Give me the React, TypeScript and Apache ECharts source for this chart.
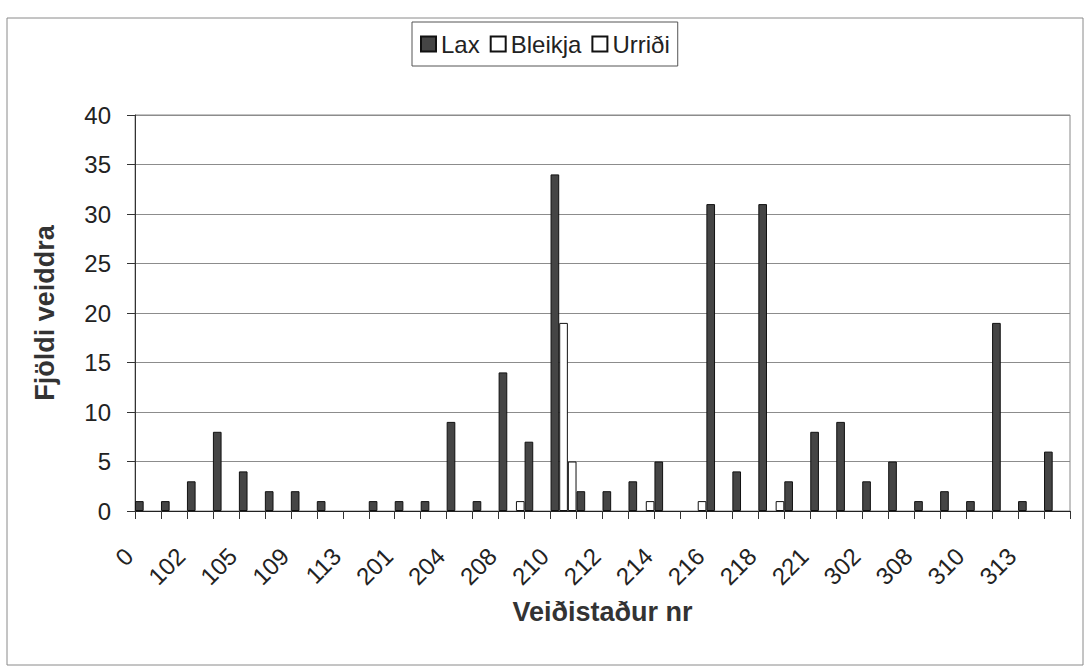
import React, { useEffect, useRef } from "react";
import * as echarts from "echarts";

const categories = [
  "0", "101", "102", "103", "105", "107", "109", "111", "113", "200",
  "201", "202", "204", "206", "208", "209", "210", "211", "212", "213",
  "214", "215", "216", "217", "218", "220", "221", "301", "302", "305",
  "308", "309", "310", "312", "313", "314",
];
const laxValues = [
  1, 1, 3, 8, 4, 2, 2, 1, 0, 1,
  1, 1, 9, 1, 14, 7, 34, 2, 2, 3,
  5, 0, 31, 4, 31, 3, 8, 9, 3, 5,
  1, 2, 1, 19, 1, 6,
];
const bleikjaValues = [
  0, 0, 0, 0, 0, 0, 0, 0, 0, 0,
  0, 0, 0, 0, 0, 0, 19, 0, 0, 0,
  0, 0, 0, 0, 0, 0, 0, 0, 0, 0,
  0, 0, 0, 0, 0, 0,
];
const urridiValues = [
  0, 0, 0, 0, 0, 0, 0, 0, 0, 0,
  0, 0, 0, 0, 1, 0, 5, 0, 0, 1,
  0, 1, 0, 0, 1, 0, 0, 0, 0, 0,
  0, 0, 0, 0, 0, 0,
];
const seriesNames = ["Lax", "Bleikja", "Urriði"];
const yMin = 0;
const yMax = 40;
const yInterval = 5;
const xTitle = "Veiðistaður nr";
const yTitle = "Fjöldi veiddra";

const FONT = "'Liberation Sans', Arial, sans-serif";

export default function App() {
  const ref = useRef<HTMLDivElement>(null);
  useEffect(() => {
    document.body.style.margin = "0";
    const chart = echarts.init(ref.current!, null, { renderer: "svg" });
    const toData = (arr: number[]) => arr.map((v) => (v === 0 ? null : v));
    const barBase = {
      type: "bar" as const,
      barGap: "0%",
      barCategoryGap: "0%",
    };
    chart.setOption({
      animation: false,
      backgroundColor: "#ffffff",
      textStyle: { fontFamily: FONT },
      graphic: [
        {
          type: "rect",
          shape: { x: 7, y: 18, width: 1076, height: 647 },
          style: { fill: "none", stroke: "#8a8a8a", lineWidth: 1 },
          silent: true,
        },
      ],
      legend: {
        data: seriesNames,
        left: 412,
        top: 22,
        padding: [10, 8, 10, 8],
        borderColor: "#555",
        borderWidth: 1,
        itemWidth: 15,
        itemHeight: 15,
        itemGap: 10,
        icon: "rect",
        textStyle: { fontSize: 24, color: "#222", fontFamily: FONT },
      },
      grid: {
        left: 135,
        right: 18,
        top: 115,
        bottom: 159,
        show: true,
        borderColor: "#888",
        borderWidth: 1,
      },
      xAxis: {
        type: "category",
        data: categories,
        name: xTitle,
        nameLocation: "middle",
        nameGap: 87,
        nameTextStyle: { fontSize: 27, fontWeight: "bold", color: "#333", fontFamily: FONT },
        axisLine: { lineStyle: { color: "#222", width: 1 } },
        axisTick: { show: true, interval: 0, length: 8, lineStyle: { color: "#333" } },
        axisLabel: {
          interval: 1,
          rotate: 45,
          fontSize: 24,
          color: "#222",
          margin: 22,
          padding: [0, 27, 0, 0],
          fontFamily: FONT,
        },
        splitLine: { show: false },
      },
      yAxis: {
        type: "value",
        min: yMin,
        max: yMax,
        interval: yInterval,
        name: yTitle,
        nameLocation: "middle",
        nameGap: 77,
        nameTextStyle: { fontSize: 27, fontWeight: "bold", color: "#333", fontFamily: FONT },
        axisLine: { show: true, lineStyle: { color: "#333", width: 1 } },
        axisTick: { show: true, length: 8, lineStyle: { color: "#333" } },
        axisLabel: { fontSize: 24, color: "#222", margin: 24, fontFamily: FONT },
        splitLine: { show: true, lineStyle: { color: "#8c8c8c", width: 1 } },
      },
      series: [
        {
          ...barBase,
          name: seriesNames[0],
          data: toData(laxValues),
          itemStyle: { color: "#454545", borderColor: "#111", borderWidth: 1 },
        },
        {
          ...barBase,
          name: seriesNames[1],
          data: toData(bleikjaValues),
          itemStyle: { color: "#ffffff", borderColor: "#111", borderWidth: 1 },
        },
        {
          ...barBase,
          name: seriesNames[2],
          data: toData(urridiValues),
          itemStyle: { color: "#ffffff", borderColor: "#111", borderWidth: 1 },
        },
      ],
    });
    return () => chart.dispose();
  }, []);
  return <div ref={ref} style={{ width: 1088, height: 670, background: "#fff" }} />;
}
